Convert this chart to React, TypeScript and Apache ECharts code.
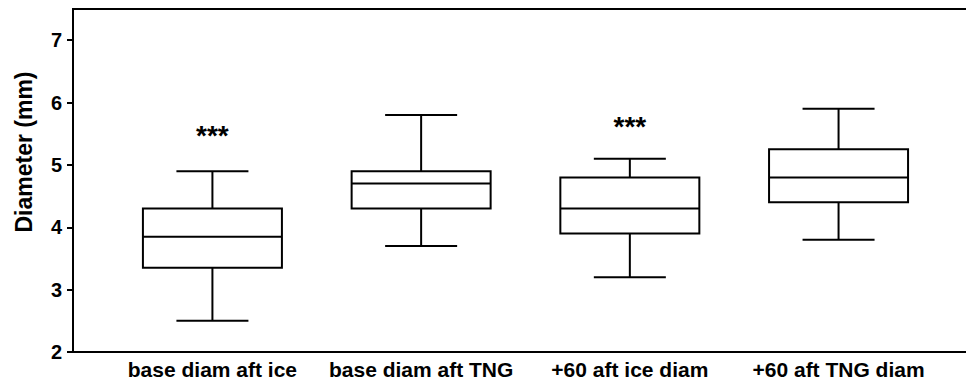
import React, { useEffect, useRef } from 'react';
import * as echarts from 'echarts';

const categories = ['base diam aft ice', 'base diam aft TNG', '+60 aft ice diam', '+60 aft TNG diam'];
const whiskerLow = [2.5, 3.7, 3.2, 3.8];
const quartile1 = [3.35, 4.3, 3.9, 4.4];
const medians = [3.85, 4.7, 4.3, 4.8];
const quartile3 = [4.3, 4.9, 4.8, 5.25];
const whiskerHigh = [4.9, 5.8, 5.1, 5.9];
const starCategories = [0, 2];
const starLevels = [5.57, 5.72];
const starLabels = ['***', '***'];
const yTicks = [2, 3, 4, 5, 6, 7];
const yTitle = 'Diameter (mm)';

const FONT = '"Liberation Sans", Arial, Helvetica, sans-serif';
const BOX_WIDTH = 0.666;
const CAP_WIDTH = 0.345;

export default function App() {
  const ref = useRef<HTMLDivElement>(null);

  useEffect(() => {
    if (!ref.current) return;
    const chart = echarts.init(ref.current, undefined, { renderer: 'svg' });

    const boxData = categories.map((_, i) => [i, whiskerLow[i], quartile1[i], medians[i], quartile3[i], whiskerHigh[i]]);
    const starData = starCategories.map((c, i) => [c, starLevels[i], i]);

    const option: any = {
      animation: false,
      backgroundColor: '#fff',
      grid: {
        left: 73,
        top: 9,
        right: -3,
        bottom: 35,
        show: true,
        borderColor: '#000',
        borderWidth: 2,
        backgroundColor: 'transparent',
        containLabel: false,
        outerBoundsMode: 'none',
      },
      xAxis: {
        type: 'value',
        min: -0.668,
        max: 3.625,
        splitLine: { show: false },
        axisTick: { show: false },
        axisLine: { show: true, onZero: false, lineStyle: { color: '#000', width: 2 } },
        axisLabel: {
          customValues: categories.map((_, i) => i),
          formatter: (v: number) => categories[Math.round(v)] ?? '',
          color: '#000',
          fontFamily: FONT,
          fontWeight: 'bold',
          fontSize: 21,
          margin: 7,
        },
      },
      yAxis: {
        type: 'value',
        min: 2,
        max: 7.5,
        splitLine: { show: false },
        axisLine: { show: true, onZero: false, lineStyle: { color: '#000', width: 2 } },
        axisTick: {
          show: true,
          length: 6,
          customValues: yTicks,
          lineStyle: { color: '#000', width: 2 },
        },
        axisLabel: {
          customValues: yTicks,
          color: '#000',
          fontFamily: FONT,
          fontWeight: 'bold',
          fontSize: 20,
          margin: 11,
        },
      },
      graphic: [
        {
          type: 'text',
          x: 24,
          y: 152,
          rotation: Math.PI / 2,
          style: {
            text: yTitle,
            fill: '#000',
            fontFamily: FONT,
            fontWeight: 'bold',
            fontSize: 23,
            align: 'center',
            verticalAlign: 'middle',
          },
        },
      ],
      series: [
        {
          type: 'custom',
          data: boxData,
          encode: { x: 0, y: [1, 2, 3, 4, 5] },
          renderItem: (params: any, api: any) => {
            const x = api.value(0);
            const [cx, yMin] = api.coord([x, api.value(1)]);
            const yQ1 = api.coord([x, api.value(2)])[1];
            const yMed = api.coord([x, api.value(3)])[1];
            const yQ3 = api.coord([x, api.value(4)])[1];
            const yMax = api.coord([x, api.value(5)])[1];
            const boxW = api.size([BOX_WIDTH, 0])[0];
            const capW = api.size([CAP_WIDTH, 0])[0];
            const ls = { stroke: '#000', lineWidth: 2, fill: 'none' };
            return {
              type: 'group',
              children: [
                { type: 'line', shape: { x1: cx, y1: yQ3, x2: cx, y2: yMax }, style: ls },
                { type: 'line', shape: { x1: cx - capW / 2, y1: yMax, x2: cx + capW / 2, y2: yMax }, style: ls },
                { type: 'line', shape: { x1: cx, y1: yQ1, x2: cx, y2: yMin }, style: ls },
                { type: 'line', shape: { x1: cx - capW / 2, y1: yMin, x2: cx + capW / 2, y2: yMin }, style: ls },
                {
                  type: 'rect',
                  shape: { x: cx - boxW / 2, y: yQ3, width: boxW, height: yQ1 - yQ3 },
                  style: { stroke: '#000', lineWidth: 2, fill: '#fff' },
                },
                { type: 'line', shape: { x1: cx - boxW / 2, y1: yMed, x2: cx + boxW / 2, y2: yMed }, style: ls },
              ],
            };
          },
        },
        {
          type: 'custom',
          data: starData,
          encode: { x: 0, y: 1 },
          renderItem: (params: any, api: any) => {
            const [px, py] = api.coord([api.value(0), api.value(1)]);
            const idx = api.value(2);
            return {
              type: 'text',
              x: px,
              y: py + 6,
              style: {
                text: starLabels[idx],
                fill: '#000',
                fontFamily: FONT,
                fontWeight: 'bold',
                fontSize: 28,
                align: 'center',
                verticalAlign: 'middle',
              },
            };
          },
        },
      ],
    };

    chart.setOption(option);
    return () => chart.dispose();
  }, []);

  return <div ref={ref} style={{ position: 'absolute', left: 0, top: 0, width: 966, height: 387 }} />;
}
